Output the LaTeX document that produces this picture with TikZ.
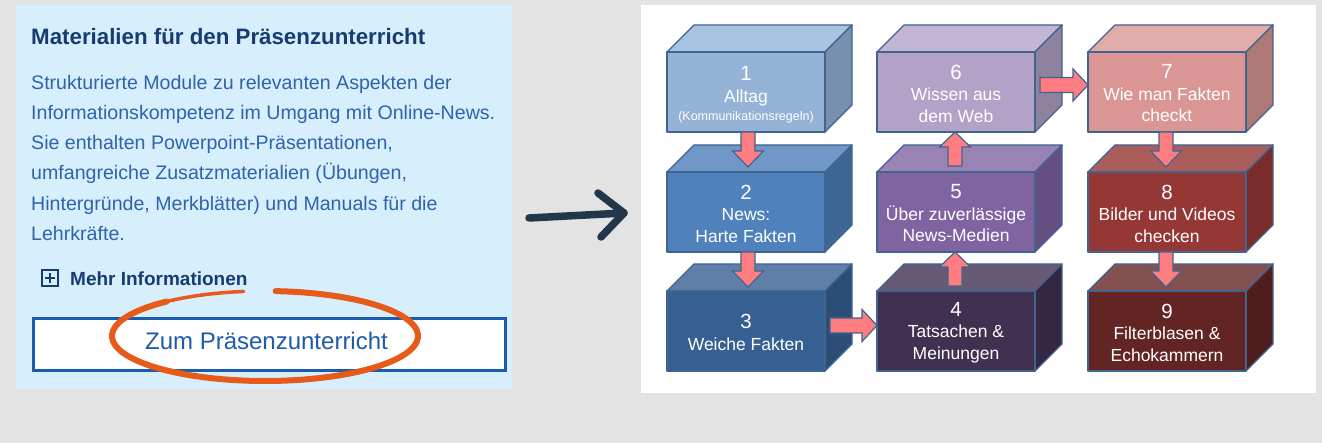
\documentclass[tikz,border=0pt]{standalone}
\usepackage{fontspec}
\setmainfont{Liberation Sans}
\usetikzlibrary{calc}
\definecolor{bggray}{HTML}{E3E3E3}
\definecolor{panelblue}{HTML}{D7EEFC}
\definecolor{titleblue}{HTML}{183B72}
\definecolor{bodyblue}{HTML}{2F63AE}
\definecolor{btnblue}{HTML}{1A5CB0}
\definecolor{btntext}{HTML}{1E5BA8}
\definecolor{ringorange}{HTML}{E65A1A}
\definecolor{arrowdark}{HTML}{23374A}
\definecolor{edgecol}{HTML}{41648F}
\definecolor{salmon}{HTML}{FF7C80}
\definecolor{cAf}{HTML}{95B3D7}\definecolor{cAt}{HTML}{A9C4E0}\definecolor{cAs}{HTML}{7790AD}
\definecolor{cBf}{HTML}{4F81BD}\definecolor{cBt}{HTML}{6F97C8}\definecolor{cBs}{HTML}{3E6695}
\definecolor{cCf}{HTML}{376092}\definecolor{cCt}{HTML}{5F7FA8}\definecolor{cCs}{HTML}{2C4D75}
\definecolor{cDf}{HTML}{403151}\definecolor{cDt}{HTML}{665A75}\definecolor{cDs}{HTML}{332741}
\definecolor{cEf}{HTML}{8064A2}\definecolor{cEt}{HTML}{9982B4}\definecolor{cEs}{HTML}{664F82}
\definecolor{cFf}{HTML}{B3A2C7}\definecolor{cFt}{HTML}{C3B6D4}\definecolor{cFs}{HTML}{8F829F}
\definecolor{cGf}{HTML}{D99694}\definecolor{cGt}{HTML}{E1ABA9}\definecolor{cGs}{HTML}{AE7876}
\definecolor{cHf}{HTML}{953735}\definecolor{cHt}{HTML}{AA5E5C}\definecolor{cHs}{HTML}{772C2A}
\definecolor{cIf}{HTML}{632523}\definecolor{cIt}{HTML}{825150}\definecolor{cIs}{HTML}{4F1D1C}
\tikzset{
  face/.style={draw=edgecol, line width=1.3pt, line join=round},
  frontface/.style={face, minimum width=158pt, minimum height=80pt, inner sep=0pt,
    outer sep=0pt, anchor=north west},
  boxlabel/.style={text=white, align=center, inner sep=0pt,
    font=\fontsize{17.5}{21.5}\selectfont},
  blk/.style={fill=salmon, draw=edgecol, line width=1.2pt, line join=miter},
  bodytext/.style={anchor=base west, inner sep=0pt, text=bodyblue,
    font=\fontsize{19.6}{24}\selectfont},
}
\newcommand\numfont{\fontsize{20.5}{21.5}\selectfont}
\newcommand\cubebox[8]{%
  \draw[face, fill=#5] (#2,#3) -- ++(27,-27) -- ++(158,0) -- ++(-27,27) -- cycle;
  \draw[face, fill=#6] (#2+158,#3) -- ++(27,-27) -- ++(0,80) -- ++(-27,27) -- cycle;
  \node[frontface, fill=#4] (#1) at (#2,#3) {};
  \node[boxlabel] (#1t) at ($(#1.center)+(0,#7)$) {#8};
}
\newcommand\blkdown[2]{%
  \draw[blk] #1 ++(-7,0) -- ++(0,{#2-16}) -- ++(-8.5,0) -- ++(15.5,16) -- ++(15.5,-16)
    -- ++(-8.5,0) -- ++(0,{-(#2-16)}) -- cycle;}
\newcommand\blkup[2]{%
  \draw[blk] #1 -- ++(15.5,15) -- ++(-8.5,0) -- ++(0,{#2-15}) -- ++(-14,0)
    -- ++(0,{-(#2-15)}) -- ++(-8.5,0) -- cycle;}
\newcommand\blkright[2]{%
  \draw[blk] #1 -- ++(-15,-16) -- ++(0,8.5) -- ++({-(#2-15)},0) -- ++(0,15)
    -- ++({#2-15},0) -- ++(0,8.5) -- cycle;}
\begin{document}
\begin{tikzpicture}[x=1pt,y=-1pt]
\useasboundingbox (0,0) rectangle (1322,443);
\fill[bggray] (0,0) rectangle (1322,443);
% left panel
\fill[panelblue] (16,5) rectangle (512,389);
\node[anchor=base west, inner sep=0pt, text=titleblue, font=\fontsize{22.3}{26}\selectfont\bfseries]
  (title) at (31,45) {Materialien für den Präsenzunterricht};
\node[bodytext] (l1) at (31,90) {Strukturierte Module zu relevanten Aspekten der};
\node[bodytext] (l2) at (31,120) {Informationskompetenz im Umgang mit Online-News.};
\node[bodytext] (l3) at (31,150) {Sie enthalten Powerpoint-Präsentationen,};
\node[bodytext] (l4) at (31,180) {umfangreiche Zusatzmaterialien (Übungen,};
\node[bodytext] (l5) at (31,211) {Hintergründe, Merkblätter) und Manuals für die};
\node[bodytext] (l6) at (31,241) {Lehrkräfte.};
% plus icon
\node[draw=titleblue, line width=2pt, minimum size=16pt, inner sep=0pt] (plus) at (49.5,278.5) {};
\draw[titleblue, line width=2pt] ($(plus.center)+(-5,0)$) -- ($(plus.center)+(5,0)$)
  ($(plus.center)+(0,-5)$) -- ($(plus.center)+(0,5)$);
\node[anchor=base west, inner sep=0pt, text=titleblue, font=\fontsize{19}{22}\selectfont\bfseries]
  (mehr) at (70,286) {Mehr Informationen};
% button
\node[draw=btnblue, fill=white, line width=3pt, minimum width=472pt, minimum height=52pt,
  inner sep=0pt, anchor=north west] (btn) at (32,317) {};
\node[anchor=base, inner sep=0pt, text=btntext, font=\fontsize{24}{28}\selectfont]
  (btntxt) at (266.5,350) {Zum Präsenzunterricht};
% orange ring
\draw[ringorange, line width=6pt, line cap=round]
  plot[smooth, domain=-230:86, samples=80] ({265+153*cos(\x)},{336-45*sin(\x)});
\draw[ringorange, line width=3.5pt, line cap=round]
  plot[smooth, domain=-262:-228, samples=20] ({265+153*cos(\x)},{336-45*sin(\x)});
% middle arrow
\coordinate (arrA) at (529,218);
\coordinate (arrB) at (624,213);
\draw[arrowdark, line width=7.5pt, line cap=round, line join=round] (arrA) -- (arrB);
\draw[arrowdark, line width=7.5pt, line cap=round, line join=round]
  ($(arrB)+(-26,-20)$) -- (arrB) -- ($(arrB)+(-23,24)$);
% right panel
\fill[white] (641,5) rectangle (1316,393);
\cubebox{b1}{667}{52}{cAf}{cAt}{cAs}{3}{{\numfont 1}\\Alltag\\[-3pt]{\fontsize{12.5}{15}\selectfont(Kommunikationsregeln)}}
\cubebox{b2}{667}{172}{cBf}{cBt}{cBs}{1.5}{{\numfont 2}\\News:\\Harte Fakten}
\cubebox{b3}{667}{291}{cCf}{cCt}{cCs}{1.5}{{\numfont 3}\\Weiche Fakten}
\cubebox{b4}{877}{291}{cDf}{cDt}{cDs}{1.5}{{\numfont 4}\\Tatsachen \&\\Meinungen}
\cubebox{b5}{877}{172}{cEf}{cEt}{cEs}{1.5}{{\numfont 5}\\Über zuverlässige\\News-Medien}
\cubebox{b6}{877}{52}{cFf}{cFt}{cFs}{1.5}{{\numfont 6}\\Wissen aus\\dem Web}
\cubebox{b7}{1088}{52}{cGf}{cGt}{cGs}{1.5}{{\numfont 7}\\Wie man Fakten\\checkt}
\cubebox{b8}{1088}{172}{cHf}{cHt}{cHs}{1.5}{{\numfont 8}\\Bilder und Videos\\checken}
\cubebox{b9}{1088}{291}{cIf}{cIt}{cIs}{1.5}{{\numfont 9}\\Filterblasen \&\\Echokammern}
% block arrows
\blkdown{($(b1.south)+(2,0)$)}{35}
\blkdown{($(b2.south)+(2,0)$)}{35}
\blkright{($(b4.west)+(0,-5.5)$)}{47}
\blkup{($(b5.south)+(-1,0)$)}{34}
\blkup{($(b6.south)+(-1,0)$)}{34}
\blkright{($(b7.west)+(0,-7)$)}{48}
\blkdown{($(b7.south)+(-1,0)$)}{35}
\blkdown{($(b8.south)+(-1,0)$)}{35}
\end{tikzpicture}
\end{document}
